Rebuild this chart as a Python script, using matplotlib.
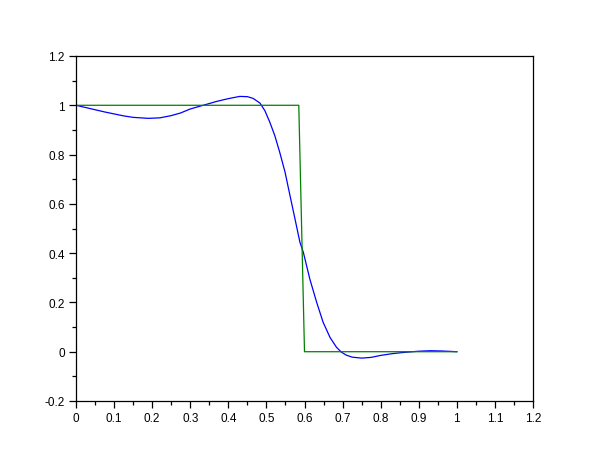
import matplotlib
matplotlib.use("Agg")
import matplotlib.pyplot as plt
from matplotlib.ticker import MultipleLocator, FuncFormatter

# ideal (desired) response
ideal_f = [0, 0.585, 0.6, 1.0]
ideal_h = [1, 1, 0, 0]

# approximated response
resp_f = [0, 0.025, 0.05, 0.075, 0.1, 0.125, 0.15, 0.19, 0.22, 0.25, 0.275,
          0.3, 0.334, 0.37, 0.4, 0.43, 0.45, 0.465, 0.483, 0.496, 0.509,
          0.522, 0.535, 0.549, 0.562, 0.575, 0.588, 0.597, 0.614, 0.632,
          0.649, 0.667, 0.684, 0.697, 0.71, 0.725, 0.75, 0.775, 0.8, 0.83,
          0.86, 0.9, 0.93, 0.96, 1.0]
resp_h = [1.0, 0.991, 0.982, 0.973, 0.965, 0.957, 0.951, 0.947, 0.949,
          0.958, 0.969, 0.985, 1.0, 1.016, 1.027, 1.036, 1.035, 1.028, 1.009,
          0.978, 0.931, 0.877, 0.809, 0.728, 0.633, 0.539, 0.444, 0.403,
          0.295, 0.200, 0.119, 0.058, 0.018, -0.002, -0.014, -0.022, -0.026,
          -0.023, -0.015, -0.008, -0.003, 0.002, 0.004, 0.003, 0.0]

fig = plt.figure(figsize=(6.1, 4.6), dpi=100)
ax = fig.add_axes([76 / 610, 58 / 460, 457 / 610, 345 / 460])

ax.plot(resp_f, resp_h, color="#0000ff", lw=0.9)
ax.plot(ideal_f, ideal_h, color="#008000", lw=0.9)

ax.set_xlim(0, 1.2)
ax.set_ylim(-0.2, 1.2)
ax.xaxis.set_major_locator(MultipleLocator(0.1))
ax.xaxis.set_minor_locator(MultipleLocator(0.05))
ax.yaxis.set_major_locator(MultipleLocator(0.2))
ax.yaxis.set_minor_locator(MultipleLocator(0.1))
fmt = FuncFormatter(lambda v, p: "%g" % round(v, 2))
ax.xaxis.set_major_formatter(fmt)
ax.yaxis.set_major_formatter(fmt)

ax.tick_params(which="both", direction="out", top=False, right=False,
               labelsize=8.5, width=0.9)
ax.tick_params(which="major", length=5, pad=3)
ax.tick_params(which="minor", length=3)
for s in ax.spines.values():
    s.set_linewidth(0.9)

for lab in ax.get_xticklabels() + ax.get_yticklabels():
    lab.set_family("Liberation Sans")

fig.savefig("out.png", dpi=100)
